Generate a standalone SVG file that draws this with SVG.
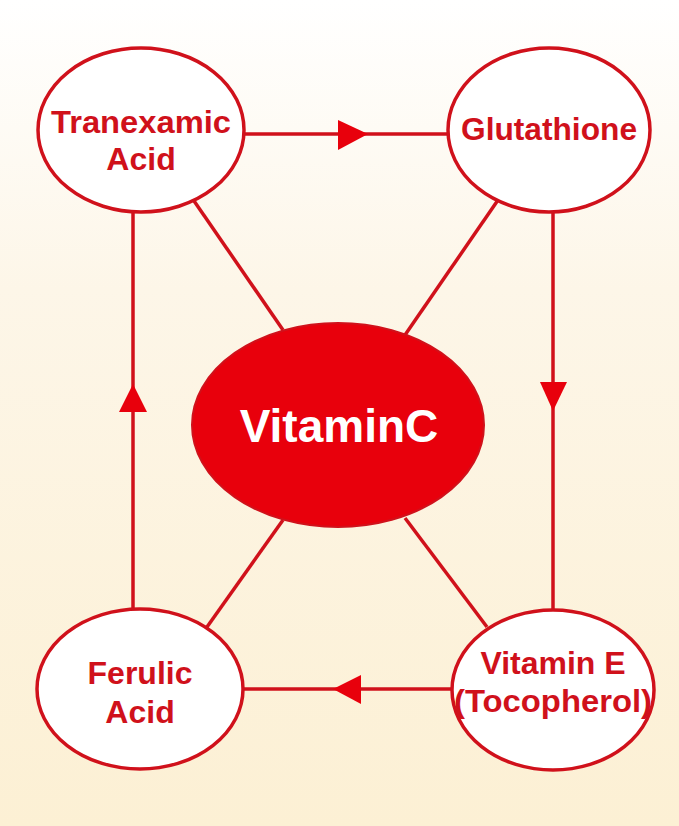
<svg xmlns="http://www.w3.org/2000/svg" width="679" height="826" viewBox="0 0 679 826">
<defs>
<linearGradient id="bg" x1="0" y1="0" x2="0" y2="1">
<stop offset="0" stop-color="#ffffff"/>
<stop offset="0.35" stop-color="#fdf6e8"/>
<stop offset="1" stop-color="#fcf0d4"/>
</linearGradient>
<style>
.n{fill:#fff;stroke:#d0111b;stroke-width:3.5}
.t{font-family:"Liberation Sans",Arial,sans-serif;font-weight:bold;font-size:32px;fill:#d0111b;text-anchor:middle}
.c line{stroke:#d0111b;stroke-width:3.5}
.a{fill:#e8000c}
</style>
</defs>
<rect width="679" height="826" fill="url(#bg)"/>
<g id="connectors" class="c">
<line x1="245" y1="134" x2="448" y2="134"/>
<polygon class="a" points="338,120 368,134 338,150"/>
<line x1="553" y1="212" x2="553" y2="610"/>
<polygon class="a" points="540,382 553,411 567,382"/>
<line x1="242" y1="689" x2="452" y2="689"/>
<polygon class="a" points="361,675 333,689 361,704"/>
<line x1="133" y1="212" x2="133" y2="610"/>
<polygon class="a" points="119,412 133,384 147,412"/>
<line x1="192" y1="198" x2="283" y2="330"/>
<line x1="498" y1="200" x2="405" y2="335"/>
<line x1="207" y1="627" x2="283" y2="520"/>
<line x1="487" y1="627" x2="405" y2="518"/>
</g>
<g id="tranexamic"><ellipse class="n" cx="141" cy="130" rx="103" ry="82"/>
<text class="t" x="141" y="133" textLength="180" lengthAdjust="spacingAndGlyphs">Tranexamic</text><text class="t" x="141" y="170">Acid</text></g>
<g id="glutathione"><ellipse class="n" cx="549" cy="130" rx="101" ry="82"/>
<text class="t" x="549" y="140" textLength="176" lengthAdjust="spacingAndGlyphs">Glutathione</text></g>
<g id="ferulic"><ellipse class="n" cx="140" cy="689" rx="103" ry="80"/>
<text class="t" x="140" y="684">Ferulic</text><text class="t" x="140" y="723">Acid</text></g>
<g id="vitamine"><ellipse class="n" cx="553" cy="690" rx="101" ry="80"/>
<text class="t" x="553" y="674">Vitamin E</text><text class="t" x="553" y="712" textLength="198" lengthAdjust="spacingAndGlyphs">(Tocopherol)</text></g>
<g id="vitaminc"><ellipse cx="338" cy="425" rx="146" ry="102" fill="#e8000c" stroke="#d0111b" stroke-width="2"/>
<text x="339" y="442" text-anchor="middle" font-family="Liberation Sans,Arial,sans-serif" font-weight="bold" font-size="46" fill="#fff">VitaminC</text></g>
</svg>
